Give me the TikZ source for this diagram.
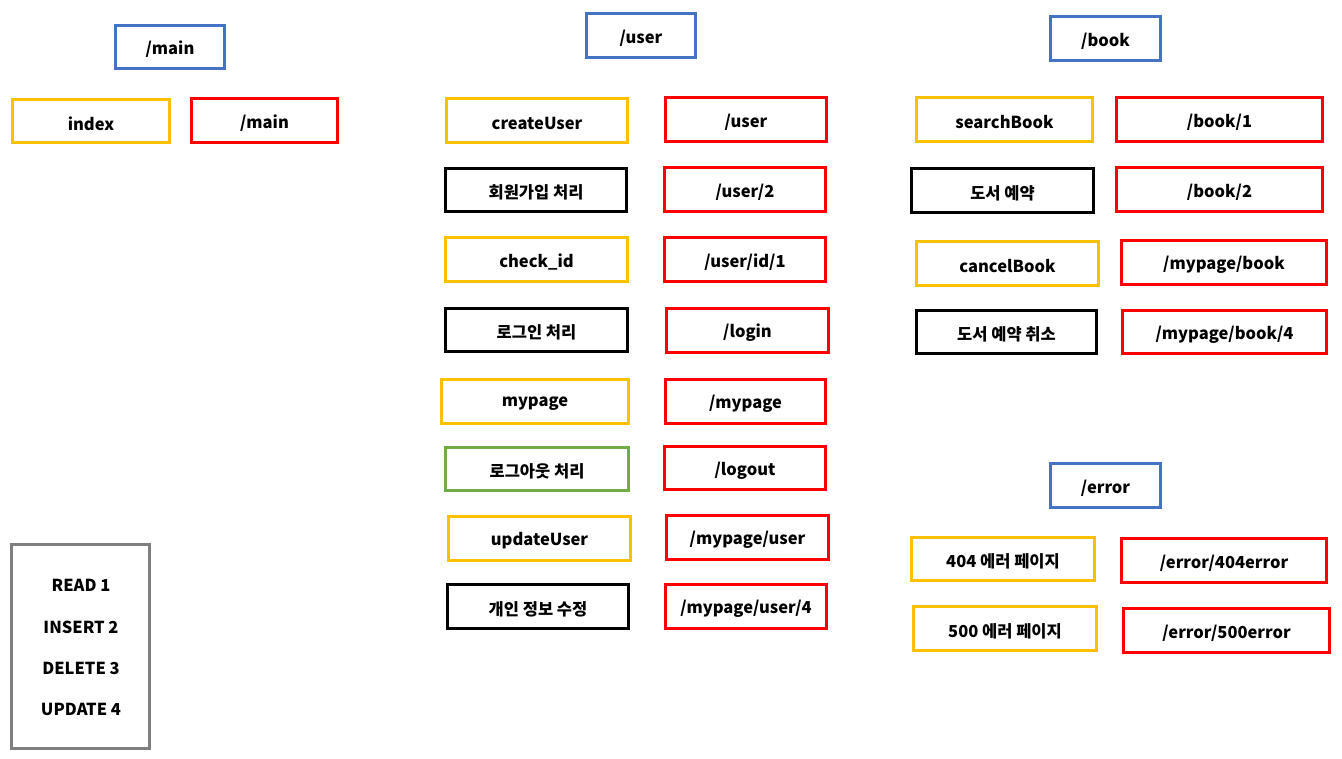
\documentclass[tikz,border=0pt]{standalone}
\usepackage{fontspec}
\setmainfont{Noto Sans CJK KR}
\definecolor{cblue}{HTML}{4472C4}
\definecolor{cyel}{HTML}{FFC000}
\definecolor{cred}{HTML}{FF0000}
\definecolor{cgreen}{HTML}{70AD47}
\definecolor{cgray}{HTML}{7F7F7F}
\tikzset{box/.style={line width=3pt, inner sep=0pt, font=\fontsize{16.5}{18}\selectfont\bfseries, fill=white},
  lbl/.style={inner sep=0pt, font=\fontsize{16.5}{18}\selectfont\bfseries}}
\newcommand\bx[7]{%
  \pgfmathsetmacro\bw{#5-#3-3}\pgfmathsetmacro\bh{#6-#4-3}%
  \node[box, draw=#2, minimum width=\bw pt, minimum height=\bh pt] (#1) at ({(#3+#5)/2},{(#4+#6)/2}) {\raisebox{-2.5pt}[\height][\depth]{#7}};}
\begin{document}
\begin{tikzpicture}[x=1pt,y=-1pt]
\useasboundingbox[fill=white] (0,0) rectangle (1342,759);
% main
\bx{hmain}{cblue}{114}{24}{226}{70}{/main}
\bx{index}{cyel}{11}{98}{171}{144}{index}
\bx{rmain}{cred}{190}{97}{339}{144}{/main}
% user
\bx{huser}{cblue}{585}{12}{697}{59}{/user}
\bx{createUser}{cyel}{445}{97}{629}{144}{createUser}
\bx{ruser}{cred}{664}{96}{828}{143}{/user}
\bx{join}{black}{444}{167}{628}{213}{회원가입 처리}
\bx{ruser2}{cred}{663}{166}{827}{213}{/user/2}
\bx{checkid}{cyel}{444}{236}{629}{283}{check\_id}
\bx{ruserid}{cred}{663}{236}{827}{283}{/user/id/1}
\bx{login}{black}{444}{307}{629}{353}{로그인 처리}
\bx{rlogin}{cred}{665}{307}{830}{354}{/login}
\bx{mypage}{cyel}{440}{378}{630}{425}{mypage}
\bx{rmypage}{cred}{664}{378}{827}{425}{/mypage}
\bx{logout}{cgreen}{444}{446}{630}{492}{로그아웃 처리}
\bx{rlogout}{cred}{663}{445}{827}{491}{/logout}
\bx{updateUser}{cyel}{447}{515}{632}{562}{updateUser}
\bx{rmpuser}{cred}{665}{514}{830}{561}{/mypage/user}
\bx{edit}{black}{446}{583}{630}{630}{개인 정보 수정}
\bx{rmpuser4}{cred}{664}{583}{828}{630}{/mypage/user/4}
% book
\bx{hbook}{cblue}{1049}{15}{1162}{62}{/book}
\bx{searchBook}{cyel}{915}{96}{1094}{143}{searchBook}
\bx{rbook1}{cred}{1115}{96}{1324}{143}{/book/1}
\bx{reserve}{black}{910}{167}{1095}{214}{도서 예약}
\bx{rbook2}{cred}{1115}{166}{1324}{213}{/book/2}
\bx{cancelBook}{cyel}{915}{240}{1100}{287}{cancelBook}
\bx{rmpbook}{cred}{1120}{239}{1328}{286}{/mypage/book}
\bx{cancel}{black}{915}{309}{1098}{355}{도서 예약 취소}
\bx{rmpbook4}{cred}{1121}{309}{1328}{355}{/mypage/book/4}
% error
\bx{herror}{cblue}{1049}{462}{1162}{509}{/error}
\bx{e404}{cyel}{910}{536}{1096}{582}{404 에러 페이지}
\bx{r404}{cred}{1120}{537}{1328}{584}{/error/404error}
\bx{e500}{cyel}{912}{605}{1098}{652}{500 에러 페이지}
\bx{r500}{cred}{1122}{607}{1331}{654}{/error/500error}
% legend
\bx{legend}{cgray}{10}{543}{151}{750}{}
\node[lbl] (l1) at (81,585) {READ 1};
\node[lbl] (l2) at (81,627) {INSERT 2};
\node[lbl] (l3) at (81,668) {DELETE 3};
\node[lbl] (l4) at (81,709) {UPDATE 4};
\end{tikzpicture}
\end{document}
